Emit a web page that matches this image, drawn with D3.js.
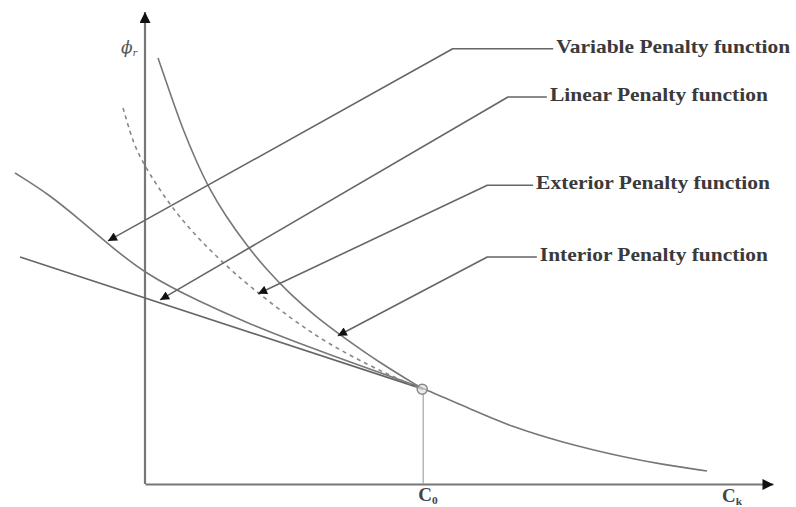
<!DOCTYPE html>
<html><head><meta charset="utf-8">
<script src="https://cdn.jsdelivr.net/npm/d3@7"></script>
<style>body{margin:0;background:#fff}svg{display:block}</style>
</head><body><svg id="c" width="796" height="507"></svg>
<script>
// ---- data (abstract units) ----
const mainCurve = [[-20.7,65.89],[-15.13,61.23],[-10.35,55.93],[-6.05,51.06],[0,44.49],[8.76,38.56],[16.72,33.9],[23.57,30.3],[32.64,25.85],[40.61,22.03],[44.27,20.34],[52.87,15.25],[58.12,12.29],[66.08,8.9],[76.75,5.51],[82.0,4.24],[89.49,2.75]];
const linearLine = [[-19.9,48.1],[44.3,20.1]];
const exteriorCurve = [[-3.5,79.66],[-2.71,76.06],[-1.59,71.19],[0.8,65.47],[3.98,59.11],[7.64,53.18],[11.94,47.46],[16.72,41.74],[23.57,34.75],[28.98,29.87],[35.83,25.0],[41.4,21.61],[44.27,20.13]];
const interiorCurve = [[2.07,90.25],[3.98,82.84],[6.05,75.0],[8.28,68.01],[10.35,62.29],[12.74,56.99],[16.24,50.42],[19.43,45.34],[23.09,40.25],[27.07,35.59],[31.53,31.14],[37.42,25.64],[44.27,20.13]];
const labelNames = ["Variable Penalty function","Linear Penalty function","Exterior Penalty function","Interior Penalty function"];
const leaders = [
  [[65.0,92.2],[49.0,92.2],[-5.9,51.5]],
  [[64.0,82.0],[57.8,82.0],[2.4,39.0]],
  [[61.8,63.3],[54.5,63.3],[18.0,40.3]],
  [[62.4,48.1],[54.5,48.1],[30.7,31.4]]
];
const c0 = [44.3,20.1];
const xAxisLabel = ["C","k"];
const c0Label = ["C","0"];
const yAxisLabel = ["\u03d5","r"];

// ---- scales ----
const x = d3.scaleLinear().domain([0,100]).range([145,773]);
const y = d3.scaleLinear().domain([0,100]).range([484,12]);
const svg = d3.select("#c");

const defs = svg.append("defs");
defs.append("marker").attr("id","arr").attr("viewBox","0 0 10 10")
  .attr("refX",10).attr("refY",5).attr("markerWidth",11).attr("markerHeight",9)
  .attr("markerUnits","userSpaceOnUse").attr("orient","auto")
  .append("path").attr("d","M0,0 L10,5 L0,10 Z").attr("fill","#111");
defs.append("marker").attr("id","axarr").attr("viewBox","0 0 10 10")
  .attr("refX",10).attr("refY",5).attr("markerWidth",12).attr("markerHeight",11)
  .attr("markerUnits","userSpaceOnUse").attr("orient","auto")
  .append("path").attr("d","M0,0 L10,5 L0,10 Z").attr("fill","#111");

// axes
const gx = svg.append("g").attr("transform",`translate(0,${y(0)})`)
  .call(d3.axisBottom(x).tickValues([]).tickSizeOuter(0));
gx.select(".domain").attr("stroke","#777").attr("stroke-width",2).attr("marker-end","url(#axarr)");
const gy = svg.append("g").attr("transform",`translate(${x(0)},0)`)
  .call(d3.axisLeft(y).tickValues([]).tickSizeOuter(0));
gy.select(".domain").attr("stroke","#777").attr("stroke-width",2.2)
  .attr("d",`M0,${y(0)}V${y(100)}`).attr("marker-end","url(#axarr)");

const line = d3.line().x(d=>x(d[0])).y(d=>y(d[1])).curve(d3.curveBasis);
const lin = d3.line().x(d=>x(d[0])).y(d=>y(d[1]));

// vertical C0 guide
svg.append("line").attr("x1",x(c0[0])).attr("x2",x(c0[0])).attr("y1",y(c0[1])+4).attr("y2",y(0))
  .attr("stroke","#aaa").attr("stroke-width",1.3);

svg.append("path").attr("d",line(mainCurve)).attr("fill","none").attr("stroke","#777").attr("stroke-width",1.6);
svg.append("path").attr("d",lin(linearLine)).attr("fill","none").attr("stroke","#666").attr("stroke-width",1.6);
svg.append("path").attr("d",line(exteriorCurve)).attr("fill","none").attr("stroke","#888").attr("stroke-width",1.6).attr("stroke-dasharray","4,4");
svg.append("path").attr("d",line(interiorCurve)).attr("fill","none").attr("stroke","#777").attr("stroke-width",1.6);

svg.append("circle").attr("cx",x(c0[0])-1).attr("cy",y(c0[1])).attr("r",5)
  .attr("fill","#ddd").attr("fill-opacity",0.6).attr("stroke","#888").attr("stroke-width",1.5);

// leaders
leaders.forEach(l=>{
  svg.append("path").attr("d",lin(l)).attr("fill","none").attr("stroke","#666").attr("stroke-width",1.6)
    .attr("stroke-linejoin","round").attr("marker-end","url(#arr)");
});
const widths = [234,218,234,228];
labelNames.forEach((t,i)=>{
  svg.append("text").attr("x",x(leaders[i][0][0])+3).attr("y",y(leaders[i][0][1])+4)
    .attr("font-family","Liberation Serif, serif").attr("font-weight","bold").attr("font-size",19)
    .attr("fill","#3a3a3a").attr("textLength",widths[i]).attr("lengthAdjust","spacingAndGlyphs").text(t);
});

// axis labels
function sublabel(px,py,parts,size){
  const t = svg.append("text").attr("x",px).attr("y",py).attr("font-family","Liberation Serif, serif")
    .attr("font-weight","bold").attr("font-size",size).attr("fill","#444");
  t.append("tspan").text(parts[0]);
  t.append("tspan").attr("font-size",size*0.6).attr("dy",3).text(parts[1]);
}
sublabel(x(c0[0])-5,y(0)+17,c0Label,19);
sublabel(722,y(0)+18,xAxisLabel,19);
const ty = svg.append("text").attr("x",121).attr("y",53).attr("font-family","DejaVu Serif, serif")
  .attr("font-size",17).attr("fill","#555").attr("font-style","italic");
ty.append("tspan").text(yAxisLabel[0]);
ty.append("tspan").attr("font-size",10).attr("dy",3).text(yAxisLabel[1]);
</script></body></html>
